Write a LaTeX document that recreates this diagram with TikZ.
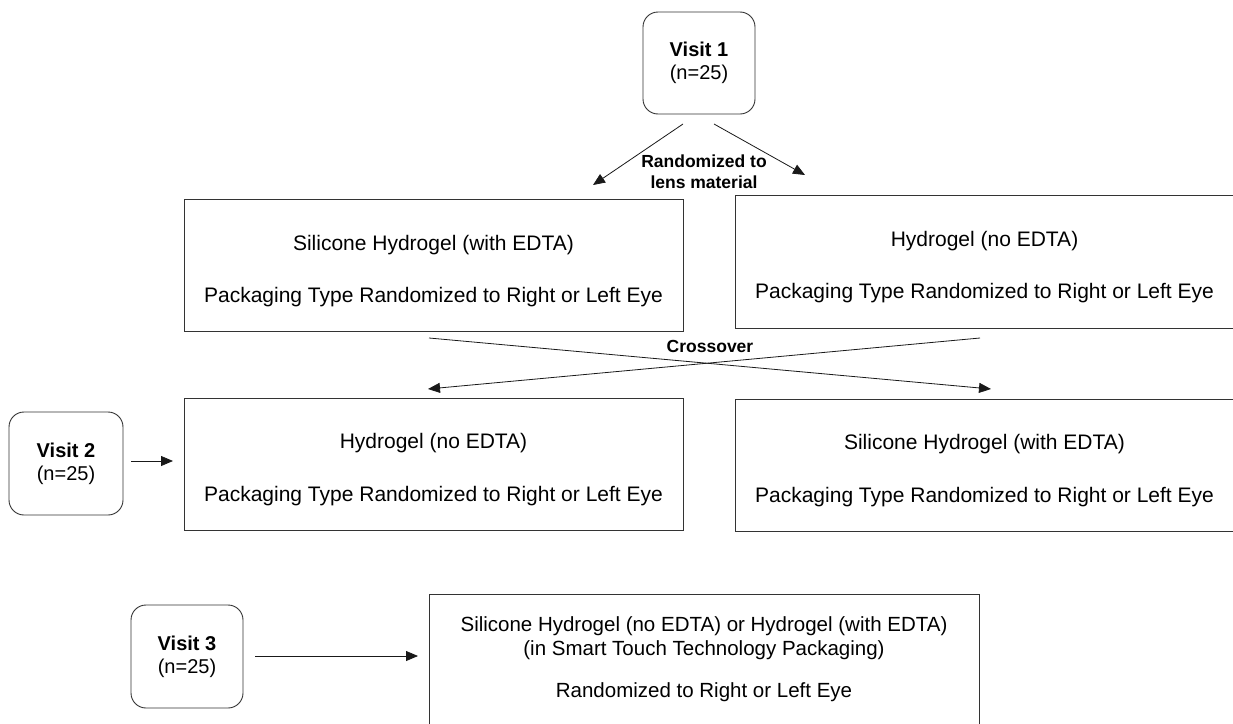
\documentclass[tikz,border=0pt]{standalone}
\usepackage{fontspec}
\setmainfont{Liberation Sans}
\usetikzlibrary{arrows.meta}
\newcommand{\topstrut}{\rule{0pt}{27pt}}
\begin{document}
\begin{tikzpicture}[x=1pt,y=-1pt,
  boxline/.style={draw=black!80,line width=0.9pt},
  mainbox/.style={boxline,rectangle,align=center,inner sep=0pt,
    font=\fontsize{21}{25}\selectfont},
  visitbox/.style={boxline,rounded corners=15pt,align=center,inner sep=0pt,
    font=\fontsize{20}{23}\selectfont},
  lbl/.style={font=\fontsize{17.5}{21}\selectfont\bfseries,align=center,inner sep=0pt},
  arr/.style={line width=0.8pt,black!90,-{Triangle[length=12pt,width=10pt]}}
]
\useasboundingbox (0,0) rectangle (1233,723);

% Visit nodes
\node[visitbox,minimum width=112pt,minimum height=102pt] (v1) at (699,63)
  {\textbf{Visit 1}\\(n=25)};
\node[visitbox,minimum width=114pt,minimum height=103pt] (v2) at (66,463.5)
  {\textbf{Visit 2}\\(n=25)};
\node[visitbox,minimum width=112pt,minimum height=103pt] (v3) at (187,656.5)
  {\textbf{Visit 3}\\(n=25)};

% Period 1 boxes
\node[mainbox,minimum width=499pt,minimum height=132pt] (A) at (433.5,265)
  {\topstrut Silicone Hydrogel (with EDTA)\\[27pt]Packaging Type Randomized to Right or Left Eye};
\node[mainbox,minimum width=499pt,minimum height=133pt] (B) at (984.5,261.5)
  {\topstrut Hydrogel (no EDTA)\\[27pt]Packaging Type Randomized to Right or Left Eye};

% Period 2 boxes
\node[mainbox,minimum width=499pt,minimum height=132pt] (C) at (433.5,464)
  {\topstrut Hydrogel (no EDTA)\\[28pt]Packaging Type Randomized to Right or Left Eye};
\node[mainbox,minimum width=499pt,minimum height=132pt] (D) at (984.5,465)
  {\topstrut Silicone Hydrogel (with EDTA)\\[28pt]Packaging Type Randomized to Right or Left Eye};

% Period 3 box (frame cut by the page bottom)
\node[align=center,inner sep=0pt,font=\fontsize{20.5}{24.4}\selectfont,anchor=north] (E) at (704,616)
  {Silicone Hydrogel (no EDTA) or Hydrogel (with EDTA)\\(in Smart Touch Technology Packaging)\\[18pt]Randomized to Right or Left Eye};
\draw[boxline] (429,740) |- (979,594) -- (979,740);

% Labels
\node[lbl] (rand) at (704,172) {Randomized to\\lens material};
\node[lbl] (cross) at (710,346) {Crossover};

% Connectors from Visit 1
\coordinate (v1a) at (683,124);
\coordinate (v1b) at (714,124);
\coordinate (Atop) at (593,185);
\coordinate (Btop) at (805,175);
\draw[arr] (v1a) -- (Atop);
\draw[arr] (v1b) -- (Btop);

% Crossover
\coordinate (Abot) at (429,338);
\coordinate (Bbot) at (980,338);
\coordinate (Ctop) at (428,389);
\coordinate (Dtop) at (991,389);
\draw[arr] (Abot) -- (Dtop);
\draw[arr] (Bbot) -- (Ctop);

% Visit 2 and 3 arrows
\coordinate (Cin) at (173,461);
\draw[arr] (v2.east |- Cin) ++(8,0) -- (Cin);
\coordinate (Ein) at (418,656);
\draw[arr] (v3.east |- Ein) ++(12,0) -- (Ein);
\end{tikzpicture}
\end{document}
